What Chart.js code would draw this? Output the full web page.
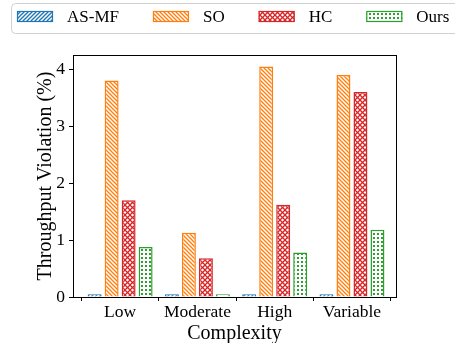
<!DOCTYPE html>
<html>
<head>
<meta charset="utf-8">
<script src="https://cdn.jsdelivr.net/npm/chart.js@4.4.0/dist/chart.umd.min.js"></script>
<style>
  html, body { margin: 0; padding: 0; background: #fff; }
  #wrap { width: 455px; height: 343px; }
</style>
</head>
<body>
<div id="wrap"><canvas id="chart" width="455" height="343"></canvas></div>
<script>
const categories = ["Low", "Moderate", "High", "Variable"];
const seriesNames = ["AS-MF", "SO", "HC", "Ours"];
const asmfValues = [0.05, 0.05, 0.05, 0.05];
const soValues = [3.8, 1.13, 4.05, 3.9];
const hcValues = [1.7, 0.68, 1.62, 3.6];
const oursValues = [0.88, 0.05, 0.78, 1.18];
const yTicks = [0, 1, 2, 3, 4];

const FONT = "'Liberation Serif', 'Times New Roman', serif";

// Build a small repeating canvas pattern, like matplotlib hatches.
function makeHatch(color, kind) {
  const size = { fwd: 4, back: 4, cross: 5, dots: 4 }[kind];
  const c = document.createElement("canvas");
  c.width = size;
  c.height = size;
  const g = c.getContext("2d");
  g.fillStyle = "#fff";
  g.fillRect(0, 0, size, size);
  g.strokeStyle = color;
  g.fillStyle = color;
  g.lineWidth = 1.3;
  const line = (x1, y1, x2, y2) => {
    g.beginPath();
    g.moveTo(x1, y1);
    g.lineTo(x2, y2);
    g.stroke();
  };
  if (kind === "fwd" || kind === "cross") {
    line(-1, size + 1, size + 1, -1);
    line(-1, 1, 1, -1);
    line(size - 1, size + 1, size + 1, size - 1);
  }
  if (kind === "back" || kind === "cross") {
    line(-1, -1, size + 1, size + 1);
    line(size - 1, -1, size + 1, 1);
    line(-1, size - 1, 1, size + 1);
  }
  if (kind === "dots") {
    g.fillRect(1, 1, 2, 2);
  }
  return g.createPattern(c, "repeat");
}

const colors = ["#1f77b4", "#ff7f0e", "#d62728", "#2ca02c"];
const kinds = ["fwd", "back", "cross", "dots"];
const values = [asmfValues, soValues, hcValues, oursValues];

const datasets = seriesNames.map((name, i) => ({
  label: name,
  data: values[i].map((v, j) => ({ x: j, y: v })),
  backgroundColor: makeHatch(colors[i], kinds[i]),
  borderColor: colors[i],
  borderWidth: 1.5,
  categoryPercentage: 0.88,
  barPercentage: 0.82,
}));

// Frame around the plot area (matplotlib style box).
const frame = {
  id: "frame",
  afterDatasetsDraw(chart) {
    const a = chart.chartArea;
    const ctx = chart.ctx;
    ctx.save();
    ctx.strokeStyle = "#000";
    ctx.lineWidth = 1;
    ctx.strokeRect(a.left + 0.5, a.top + 0.5, a.right - a.left, a.bottom - a.top);
    ctx.restore();
  },
};

// Legend drawn in a rounded box across the top.
const topLegend = {
  id: "topLegend",
  afterDraw(chart) {
    const ctx = chart.ctx;
    ctx.save();
    ctx.beginPath();
    ctx.roundRect(11.5, 3.5, 470, 30, 4);
    ctx.fillStyle = "#fff";
    ctx.fill();
    ctx.strokeStyle = "#d0d0d0";
    ctx.lineWidth = 1;
    ctx.stroke();
    ctx.font = "17px " + FONT;
    ctx.textBaseline = "middle";
    let x = 17;
    chart.data.datasets.forEach((ds) => {
      ctx.fillStyle = ds.backgroundColor;
      ctx.fillRect(x, 11, 36, 11);
      ctx.strokeStyle = ds.borderColor;
      ctx.lineWidth = 1.2;
      ctx.strokeRect(x + 0.5, 11.5, 35, 10);
      ctx.fillStyle = "#000";
      ctx.fillText(ds.label, x + 50, 18);
      x += 50 + ctx.measureText(ds.label).width + 34;
    });
    ctx.restore();
  },
};

new Chart(document.getElementById("chart"), {
  type: "bar",
  data: { datasets: datasets },
  plugins: [frame, topLegend],
  options: {
    responsive: false,
    animation: false,
    layout: { padding: { top: 55, right: 59, left: 0, bottom: 0 } },
    plugins: { legend: { display: false }, tooltip: { enabled: false } },
    scales: {
      x: {
        type: "linear",
        min: -0.61,
        max: 3.57,
        offset: false,
        afterBuildTicks(scale) {
          scale.ticks = categories.map((c, i) => ({ value: i }));
        },
        grid: { display: true, drawOnChartArea: false, drawTicks: true, tickLength: 4, color: "#000" },
        border: { display: false },
        ticks: {
          color: "#000",
          font: { family: FONT, size: 17.5 },
          padding: 1,
          maxRotation: 0,
          callback: (v) => categories[v],
        },
        title: {
          display: true,
          text: "Complexity",
          color: "#000",
          font: { family: FONT, size: 20, lineHeight: 0.9 },
          padding: { top: 0, bottom: 0 },
        },
        afterFit(scale) {
          scale.height = 46;
        },
      },
      y: {
        min: 0,
        max: 4.25,
        afterBuildTicks(scale) {
          scale.ticks = yTicks.map((v) => ({ value: v }));
        },
        grid: { display: true, drawOnChartArea: false, drawTicks: true, tickLength: 4, color: "#000" },
        border: { display: false },
        ticks: { color: "#000", font: { family: FONT, size: 17.5 }, padding: 4 },
        title: {
          display: true,
          text: "Throughput Violation (%)",
          color: "#000",
          font: { family: FONT, size: 20, lineHeight: 1.2 },
          padding: { top: 34, bottom: 0 },
        },
        afterFit(scale) {
          scale.width = 73;
        },
      },
    },
  },
});
</script>
</body>
</html>
